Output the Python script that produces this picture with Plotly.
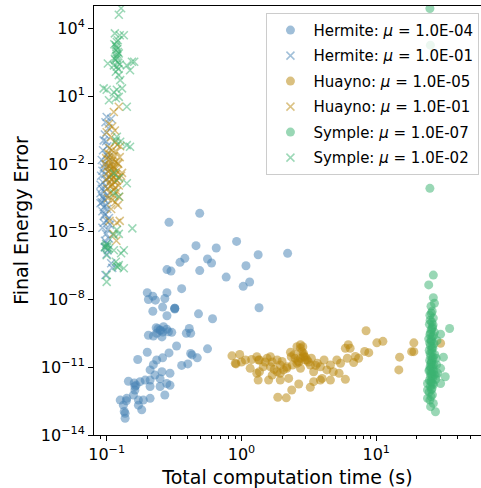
import plotly.graph_objects as go

# ---- Hermite (circles: mu = 1e-4, crosses: mu = 1e-1) ----
hermite_dot_time = [
    0.49, 0.29, 0.46, 0.65, 0.92, 1.33, 2.2, 0.35, 0.38, 0.56, 0.60, 0.28, 0.30, 0.49,
    1.08, 0.77, 1.15, 1.03, 0.20, 0.204, 0.22, 0.23, 0.27, 0.28, 0.36, 0.26, 0.22, 0.32,
    0.28, 0.48, 0.61, 1.35, 0.233, 0.249, 0.264, 0.279, 0.304, 0.235, 0.257, 0.204,
    0.222, 0.287, 0.39, 0.41, 0.42, 0.33, 0.56, 0.42, 0.43, 0.47, 0.17, 0.20, 0.29,
    0.26, 0.36, 0.40, 0.235, 0.222, 0.21, 0.257, 0.295, 0.228, 0.249, 0.279, 0.21,
    0.162, 0.177, 0.193, 0.21, 0.249, 0.27, 0.295, 0.162, 0.158, 0.141, 0.126, 0.172,
    0.187, 0.21, 0.133, 0.172, 0.182, 0.137, 0.137, 0.32, 0.32, 0.24, 0.25, 0.26,
    0.16, 0.165, 0.14, 0.135, 0.145,
]
hermite_dot_error = [
    6.5e-5, 2.6e-5, 2.4e-6, 1.9e-6, 3.7e-6, 9.5e-7, 1.1e-6, 4.4e-7, 6.6e-7, 6.2e-7,
    4.1e-7, 2.1e-7, 1.8e-7, 1.9e-7, 3.1e-7, 9.8e-8, 5.9e-8, 3.8e-8, 2.0e-8, 1.0e-8,
    1.4e-8, 9.3e-9, 1.1e-8, 2.0e-8, 3.0e-8, 4.6e-9, 3.0e-9, 4.1e-9, 1.9e-9, 2.3e-9,
    1.4e-9, 4.3e-9, 5.6e-10, 4.5e-10, 6.2e-10, 4.8e-10, 3.5e-10, 3.2e-10, 2.2e-10,
    2.6e-10, 2.4e-10, 3.7e-10, 3.2e-10, 5.2e-10, 3.2e-10, 8.7e-11, 6.5e-11, 4.1e-11,
    3.5e-11, 2.6e-11, 2.2e-11, 4.6e-11, 4.3e-11, 2.6e-11, 1.2e-11, 1.4e-11, 2.1e-11,
    1.3e-11, 7.6e-12, 6.3e-12, 5.4e-12, 4.5e-12, 3.1e-12, 1.9e-12, 2.7e-12, 1.4e-12,
    2.3e-12, 2.7e-12, 1.4e-12, 1.4e-12, 5.9e-13, 1.6e-12, 9.8e-13, 5.9e-13, 4.2e-13,
    3.5e-13, 3.5e-13, 3.5e-13, 4.2e-13, 2.1e-13, 2.1e-13, 1.3e-13, 9.1e-14, 5.5e-14,
    4.1e-9, 3.8e-9, 5.0e-10, 4.2e-10, 3.6e-10, 2.0e-12, 1.6e-12, 3.3e-13, 1.1e-13,
    2.4e-12,
]
hermite_cross_time = [
    0.100, 0.098, 0.103, 0.097, 0.095, 0.101, 0.094, 0.099, 0.092, 0.096, 0.104, 0.093,
    0.097, 0.091, 0.100, 0.094, 0.098, 0.092, 0.096, 0.090, 0.100, 0.094, 0.097, 0.092,
    0.099, 0.095, 0.101, 0.093, 0.097, 0.104, 0.100, 0.106, 0.102, 0.099, 0.104, 0.100,
    0.097, 0.102, 0.100, 0.108, 0.110, 0.098, 0.103, 0.095, 0.090, 0.105, 0.093, 0.090,
    0.096, 0.108, 0.099, 0.095, 0.093, 0.097,
]
hermite_cross_error = [
    1.2, 0.7, 0.38, 0.2, 0.11, 0.06, 0.04, 0.025, 0.015, 0.01, 0.008, 0.005, 0.0035,
    0.003, 0.002, 0.0015, 0.001, 8e-4, 6e-4, 5e-4, 4e-4, 3e-4, 2.5e-4, 2e-4, 1.5e-4,
    1.2e-4, 1e-4, 8e-5, 6e-5, 4e-5, 3e-5, 2e-5, 1.2e-5, 8e-6, 5e-6, 3e-6, 2e-6,
    1.5e-6, 1e-6, 4e-7, 2.5e-7, 1.2e-7, 0.02, 0.007, 0.0012, 0.0025, 3.5e-4, 1.8e-4,
    5e-5, 1.0, 0.1, 2.5e-5, 1.5e-5, 4e-6,
]

# ---- Huayno (circles: mu = 1e-5, crosses: mu = 1e-1) ----
huayno_dot_time = [
    8.4, 10.1, 11.2, 6.2, 5.9, 2.74, 2.85, 8.2, 8.8, 19.0, 18.3, 19.0, 14.9, 14.7, 30.0,
    0.85, 0.97, 0.90, 1.00, 1.19, 1.34, 1.55, 1.64, 1.84, 2.31, 2.88, 3.07, 3.24, 3.65,
    3.85, 4.3, 4.8, 5.1, 5.43, 6.1, 6.8, 7.4, 5.3, 5.9, 1.30, 1.33, 1.59, 1.69, 1.94,
    2.24, 2.36, 2.66, 3.24, 3.43, 3.85, 4.57, 1.86, 2.15, 1.36, 1.45, 1.84, 2.05, 2.17,
    2.74, 2.58, 3.43, 3.97, 2.74, 2.81, 2.88, 2.97, 2.74, 2.66, 0.91, 1.30, 1.36, 1.64,
    1.94, 2.17, 2.34, 2.58, 2.98, 3.14, 2.50, 2.39, 3.30, 1.16, 1.50, 1.69, 1.94, 1.07,
    4.1, 4.57, 6.4, 7.0, 2.45, 2.62, 2.9, 3.55, 1.75, 2.0,
]
huayno_dot_error = [
    4.1e-10, 1.2e-10, 1.4e-10, 1.0e-10, 6.9e-11, 1.0e-10, 8.1e-11, 5.0e-11, 4.4e-11,
    1.2e-10, 4.9e-11, 4.9e-11, 2.8e-11, 7.6e-12, 1.15e-10, 3.2e-11, 3.7e-11, 1.5e-11,
    1.7e-11, 2.2e-11, 2.1e-11, 2.5e-11, 2.9e-11, 2.1e-11, 4.6e-11, 4.2e-11, 2.1e-11,
    1.26e-11, 1.5e-11, 1.05e-11, 7.6e-12, 6.3e-12, 2.1e-11, 1.5e-11, 2.5e-11, 1.6e-11,
    2.5e-11, 5.4e-12, 2.9e-12, 5.4e-12, 2.7e-12, 2.7e-12, 4.5e-12, 2.7e-12, 3.2e-12,
    9.8e-13, 1.8e-12, 1.3e-12, 2.3e-12, 2.7e-12, 2.7e-12, 4.7e-13, 4.4e-13, 6.3e-12,
    1.05e-11, 6.3e-12, 7.6e-12, 8.9e-12, 8.9e-12, 1.5e-11, 6.3e-12, 3.2e-12, 6.9e-11,
    4.9e-11, 2.9e-11, 2.1e-11, 2.5e-11, 1.7e-11, 1.4e-11, 2.9e-11, 2.1e-11, 1.05e-11,
    5.4e-12, 1.05e-11, 2.9e-11, 8.1e-11, 2.8e-11, 1.7e-11, 2.5e-11, 1.26e-11, 2.5e-11,
    8.9e-12, 1.7e-11, 1.7e-11, 1.26e-11, 2.1e-11, 2.1e-11, 1.26e-11, 6.9e-11, 3.0e-11,
    3.6e-11, 1.9e-11, 3.3e-11, 1.2e-11, 8.0e-12, 1.8e-11,
]
huayno_cross_time = [
    0.123, 0.113, 0.104, 0.110, 0.100, 0.108, 0.115, 0.120, 0.105, 0.110, 0.118, 0.102,
    0.107, 0.113, 0.125, 0.099, 0.104, 0.110, 0.117, 0.122, 0.106, 0.112, 0.100, 0.108,
    0.115, 0.120, 0.103, 0.110, 0.117, 0.128, 0.105, 0.112, 0.100, 0.108, 0.119, 0.114,
    0.104, 0.110, 0.123, 0.107, 0.116, 0.101, 0.112, 0.119, 0.106, 0.113, 0.124, 0.102,
    0.110, 0.116, 0.121, 0.108, 0.125, 0.119, 0.105, 0.112, 0.118, 0.126, 0.130, 0.098,
    0.115, 0.124, 0.111, 0.114, 0.109, 0.117, 0.121, 0.106,
]
huayno_cross_error = [
    3.4, 2.0, 0.6, 0.45, 0.25, 0.15, 0.09, 0.07, 0.05, 0.04, 0.035, 0.03, 0.025, 0.022,
    0.02, 0.018, 0.015, 0.013, 0.012, 0.01, 0.009, 0.008, 0.007, 0.006, 0.0055, 0.005,
    0.0045, 0.004, 0.0035, 0.003, 0.0028, 0.0025, 0.0022, 0.002, 0.0018, 0.0016,
    0.0014, 0.0012, 0.0011, 0.001, 9e-4, 8e-4, 7e-4, 6e-4, 5e-4, 4e-4, 3.5e-4, 3e-4,
    2.5e-4, 2e-4, 1.5e-4, 1e-4, 3e-5, 2.5e-5, 3e-5, 8e-6, 4e-6, 0.06, 0.004, 0.01,
    0.3, 0.0025, 0.016, 0.0065, 0.0033, 0.0021, 0.011, 0.0075,
]

# ---- Symple (circles: mu = 1e-7, crosses: mu = 1e-2) ----
symple_dot_time = [
    25.0, 25.2, 25.0, 26.5, 24.5, 26.5, 27.0, 35.0, 30.0, 31.5, 30.0, 32.5, 30.0, 24.0,
    24.0, 24.0, 25.3, 27.5,
    25.5, 26.0, 25.0, 26.5, 25.8, 24.8, 26.2, 25.5, 27.0, 25.0, 26.0, 24.5, 25.7, 26.8,
    25.2, 26.3, 24.7, 25.9, 27.2, 25.4, 26.1, 24.9, 25.6, 26.7, 25.1, 26.4, 24.6, 25.8,
    27.0, 25.3, 26.2, 24.8, 25.7, 26.6, 25.2, 25.9, 24.7, 26.1, 25.5, 25.0, 26.5,
    25.6, 25.1, 26.4, 25.9, 25.3, 26.6, 25.5, 24.9, 26.0, 25.7, 25.1, 26.5, 25.8, 25.4,
    26.2, 25.6, 24.9, 26.6, 25.3, 25.9, 27.6, 25.4, 26.3, 25.6, 27.8, 28.0, 28.5, 27.8,
    28.2,
]
symple_dot_error = [
    7.6e4, 1.8e3, 8.3e-4, 1.2e-7, 4.4e-8, 1.2e-8, 6.8e-9, 5.2e-10, 2.9e-10, 2.8e-11,
    8.9e-12, 3.8e-12, 1.9e-12, 1.9e-12, 9.8e-13, 4.2e-13, 1.8e-13, 1.07e-13,
    5e-9, 3e-9, 2e-9, 1.5e-9, 1e-9, 8e-10, 6e-10, 4.5e-10, 3.5e-10, 2.8e-10, 2.2e-10,
    1.8e-10, 1.4e-10, 1.1e-10, 9e-11, 7e-11, 5.5e-11, 4.5e-11, 3.6e-11, 3e-11, 2.4e-11,
    2e-11, 1.6e-11, 1.3e-11, 1.05e-11, 8.5e-12, 7e-12, 5.8e-12, 4.7e-12, 3.9e-12,
    3.2e-12, 2.6e-12, 2.1e-12, 1.7e-12, 1.4e-12, 1.15e-12, 8e-13, 6e-13, 5e-13,
    3.5e-13, 2.5e-13,
    2.5e-9, 1.2e-9, 7.5e-10, 5.2e-10, 3.3e-10, 2.5e-10, 1.6e-10, 1.2e-10, 8e-11,
    6.2e-11, 4e-11, 2.7e-11, 1.8e-11, 1.4e-11, 1.15e-11, 9.5e-12, 7.8e-12, 6.3e-12,
    5.2e-12, 4.3e-12, 2.9e-12, 2.3e-12, 1.9e-12, 1.0e-12, 4.2e-12, 1.3e-11, 5.5e-12,
    2.5e-11, 1.5e-10,
]
symple_cross_time = [
    0.128, 0.123, 0.125, 0.134, 0.119, 0.117, 0.123, 0.119, 0.102, 0.113, 0.119, 0.141,
    0.154, 0.149, 0.117, 0.123, 0.126, 0.095, 0.100, 0.113, 0.119, 0.130, 0.104, 0.117,
    0.123, 0.141, 0.119, 0.117, 0.126, 0.141, 0.113, 0.123, 0.141, 0.113, 0.123, 0.155,
    0.119, 0.113, 0.123, 0.097, 0.104, 0.100, 0.113, 0.128, 0.134, 0.117, 0.123, 0.134,
    0.100, 0.100, 0.098, 0.102, 0.118, 0.121, 0.115, 0.121, 0.118, 0.120, 0.116, 0.122,
    0.125, 0.118, 0.121, 0.114, 0.149, 0.160, 0.099, 0.101, 0.117, 0.120, 0.115, 0.122,
]
symple_cross_error = [
    7.8e4, 4.0e4, 5000, 5000, 2500, 1100, 780, 470, 280, 230, 200, 230, 330, 140, 120,
    85, 51, 22, 19, 15, 19, 22, 6.6, 8, 9.3, 3.4, 0.16, 0.11, 0.095, 0.068, 0.0038,
    0.0023, 0.0014, 5e-4, 3.5e-4, 1.4e-5, 1.2e-5, 7e-6, 8e-6, 2.1e-6, 1.8e-6, 9e-7,
    1.5e-6, 1.1e-6, 1.5e-6, 4.7e-7, 3.3e-7, 2.4e-7, 1.2e-7, 6e-8, 2.2e-6, 2.5e-6,
    3.0e-7, 2.7e-7, 6000, 3000, 1500, 700, 400, 300, 250, 600, 900, 2000, 0.057, 330,
    2.8e-6, 2.0e-6, 1800, 1200, 450, 160,
]

y_tick_vals = [1e4, 1e1, 1e-2, 1e-5, 1e-8, 1e-11, 1e-14]
y_tick_text = ["10<sup>4</sup>", "10<sup>1</sup>", "10<sup>−2</sup>", "10<sup>−5</sup>",
               "10<sup>−8</sup>", "10<sup>−11</sup>", "10<sup>−14</sup>"]
x_tick_vals = [0.1, 1, 10]
x_tick_text = ["10<sup>−1</sup>", "10<sup>0</sup>", "10<sup>1</sup>"]
x_minor_vals = [0.09] + [k * 0.1 for k in range(2, 10)] + list(range(2, 10)) + [20, 30, 40, 50]

BLUE = "#4682B4"
GOLD = "#B8860B"
GREEN = "#3CB371"

series = [
    ("Hermite", "1.0E-04", hermite_dot_time, hermite_dot_error, "circle", BLUE),
    ("Hermite", "1.0E-01", hermite_cross_time, hermite_cross_error, "x-thin", BLUE),
    ("Huayno", "1.0E-05", huayno_dot_time, huayno_dot_error, "circle", GOLD),
    ("Huayno", "1.0E-01", huayno_cross_time, huayno_cross_error, "x-thin", GOLD),
    ("Symple", "1.0E-07", symple_dot_time, symple_dot_error, "circle", GREEN),
    ("Symple", "1.0E-02", symple_cross_time, symple_cross_error, "x-thin", GREEN),
]

fig = go.Figure()
for i, (code, mu, t, err, sym, col) in enumerate(series):
    if sym == "circle":
        marker = dict(symbol="circle", size=9, color=col, opacity=0.52, line=dict(width=0))
    else:
        marker = dict(symbol="x-thin", size=8, color=col, opacity=0.5,
                      line=dict(width=1.5, color=col))
    fig.add_trace(go.Scatter(
        x=t, y=err, mode="markers", marker=marker,
        name=f"{code}: <i>μ</i> = {mu}", legendgroup=f"g{i}",
    ))

axis_common = dict(
    showline=True, linecolor="black", linewidth=1, ticks="outside", ticklen=5,
    tickwidth=1, tickcolor="black", showgrid=False, zeroline=False,
    tickfont=dict(family="DejaVu Sans", size=16, color="black"),
)
fig.update_xaxes(
    type="log", range=[-1.094, 1.777], tickmode="array", tickvals=x_tick_vals,
    ticktext=x_tick_text, mirror=True,
    minor=dict(tickmode="array", tickvals=x_minor_vals, ticks="outside", ticklen=3,
               tickcolor="black", showgrid=False),
    title=dict(text="Total computation time (s)", standoff=7,
               font=dict(family="DejaVu Sans", size=19, color="black")),
    **axis_common,
)
fig.update_yaxes(
    type="log", range=[-14, 4.99], tickmode="array", tickvals=y_tick_vals,
    ticktext=y_tick_text, mirror=False,
    title=dict(text="Final Energy Error", standoff=7,
               font=dict(family="DejaVu Sans", size=19, color="black")),
    **axis_common,
)
fig.update_layout(
    width=481, height=488,
    margin=dict(l=94, r=0, t=6, b=53),
    plot_bgcolor="white", paper_bgcolor="white",
    font=dict(family="DejaVu Sans", color="black"),
    legend=dict(
        x=0.4456, y=0.984, xanchor="left", yanchor="top",
        bgcolor="rgba(255,255,255,0.8)", bordercolor="#cccccc", borderwidth=1,
        font=dict(family="DejaVu Sans", size=15, color="black"),
        tracegroupgap=3, itemwidth=36,
    ),
)
fig.write_html("out.html")
